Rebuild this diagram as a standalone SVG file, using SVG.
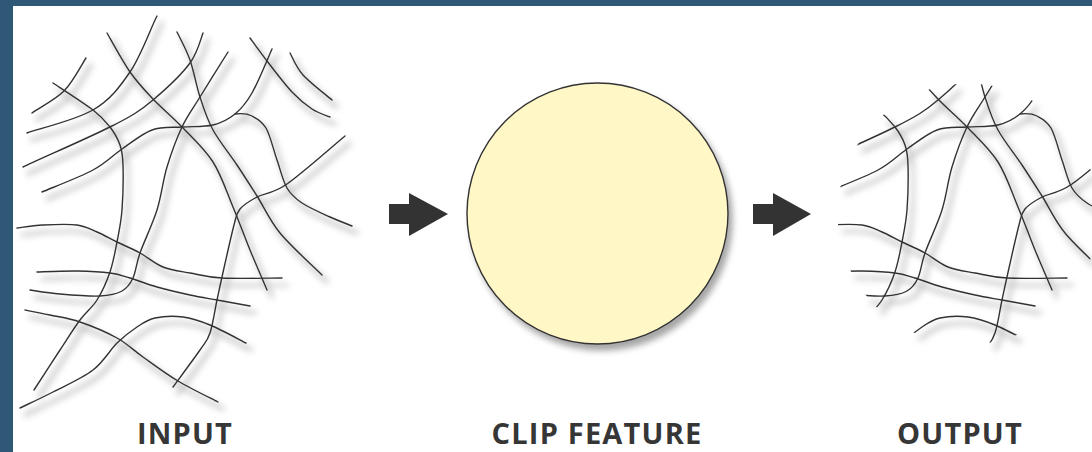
<svg xmlns="http://www.w3.org/2000/svg" xmlns:xlink="http://www.w3.org/1999/xlink" width="1092" height="452" viewBox="0 0 1092 452">
<style>
.ln{fill:none;stroke:#333;stroke-width:1.4;stroke-linecap:round;stroke-linejoin:round}
.lbl{font-family:"Open Sans","Liberation Sans",sans-serif;font-weight:700;font-size:29px;letter-spacing:1.2px;fill:#363636;text-anchor:middle}
.arr{fill:#333}
</style>
<defs>
<filter id="sh" x="-20%" y="-20%" width="140%" height="140%">
<feMorphology in="SourceAlpha" operator="dilate" radius="1.2" result="d"/>
<feGaussianBlur in="d" stdDeviation="3" result="b"/>
<feOffset in="b" dx="5" dy="7" result="o"/>
<feFlood flood-color="#000" flood-opacity="0.22"/>
<feComposite in2="o" operator="in" result="s"/>
<feMerge><feMergeNode in="s"/><feMergeNode in="SourceGraphic"/></feMerge>
</filter>
<filter id="csh" x="-20%" y="-20%" width="140%" height="140%">
<feGaussianBlur in="SourceAlpha" stdDeviation="3" result="b"/>
<feOffset in="b" dx="4" dy="6" result="o"/>
<feFlood flood-color="#000" flood-opacity="0.35"/>
<feComposite in2="o" operator="in" result="s"/>
<feMerge><feMergeNode in="s"/><feMergeNode in="SourceGraphic"/></feMerge>
</filter>
<clipPath id="clipc"><circle cx="183" cy="214" r="130.5"/></clipPath>
<g id="net" class="ln">
<path d="M32,113 C37,109 55,100 64,91 C73,82 82,64 86,58"/>
<path d="M27,133 C38,129 76,120 93,110 C110,100 119,88 130,72 C141,56 152,25 157,16"/>
<path d="M23,167 C37.5,160 88,138 110,127 C132,116 140,111 153,100 C166,89 182,74 190,63 C198,52 201,38 203,33"/>
<path d="M42,192 C50.5,188.3 79.7,177.2 93,170 C106.3,162.8 112.2,155.7 122,149 C131.8,142.3 142,133.7 152,130 C162,126.3 171.8,127.8 182,127 C192.2,126.2 204.2,127.2 213,125 C221.8,122.8 228.5,119.3 235,114 C241.5,108.7 245.8,103.8 252,93 C258.2,82.2 268.7,56.3 272,49"/>
<path d="M235,114 C239.5,113.5 247.2,113.5 252,116 C256.8,118.5 261.8,120.7 266,128 C270.2,135.3 273.5,150 277,160 C280.5,170 282.8,180.8 287,188 C291.2,195.2 294.8,198.2 302,203 C309.2,207.8 321.7,213.2 330,217 C338.3,220.8 348.3,224.5 352,226"/>
<path d="M107,33 C110.8,39.5 122.3,61 130,72 C137.7,83 144.3,89.8 153,99 C161.7,108.2 172,116.5 182,127 C192,137.5 204.5,148.7 213,162 C221.5,175.3 226.8,192.3 233,207 C239.2,221.7 244.3,236.2 250,250 C255.7,263.8 264.2,283.3 267,290"/>
<path d="M177,32 C179.2,36.7 186.2,49.2 190,60 C193.8,70.8 196.2,85.3 200,97 C203.8,108.7 206.8,118.7 213,130 C219.2,141.3 229.7,154 237,165 C244.3,176 249.8,184.7 257,196 C264.2,207.3 269.2,219.8 280,233 C290.8,246.2 315,268 322,275"/>
<path d="M250,38 C252.8,41.8 260,52 267,61 C274,70 284.5,84 292,92 C299.5,100 305.7,104.8 312,109 C318.3,113.2 327,115.7 330,117"/>
<path d="M290,53 C292.2,56.7 296,67.2 303,75 C310,82.8 327.2,95.8 332,100"/>
<path d="M345,136 C335.3,144 301.7,173.8 287,184 C272.3,194.2 264.8,192.8 257,197 C249.2,201.2 243.8,204.3 240,209 C236.2,213.7 237,213.7 234,225 C231,236.3 224.8,264.5 222,277 C219.2,289.5 219,290.7 217,300 C215,309.3 212.8,324.7 210,333 C207.2,341.3 206.2,341 200,350 C193.8,359 177.5,380.8 173,387"/>
<path d="M228,52 C223.3,59.5 207.7,84.5 200,97 C192.3,109.5 187.5,115.3 182,127 C176.5,138.7 171.2,153.2 167,167 C162.8,180.8 161.5,195.7 157,210 C152.5,224.3 144,241.7 140,253 C136,264.3 136,271.7 133,278 C130,284.3 127.5,288 122,291 C116.5,294 110.3,295.5 100,296 C89.7,296.5 71.7,295 60,294 C48.3,293 35,290.7 30,290"/>
<path d="M53,83 C59.7,87.5 83.5,102.7 93,110 C102.5,117.3 105.5,121.2 110,127 C114.5,132.8 117.8,138.7 120,145 C122.2,151.3 122.7,154.2 123,165 C123.3,175.8 123,197.2 122,210 C121,222.8 119,231.7 117,242 C115,252.3 113.3,262.3 110,272 C106.7,281.7 102,292 97,300 C92,308 86.2,311.7 80,320 C73.8,328.3 67.7,338.3 60,350 C52.3,361.7 38.3,383.3 34,390"/>
<path d="M17,228 C21.3,227.5 33,225.5 43,225 C53,224.5 68,223.8 77,225 C86,226.2 90.3,229.2 97,232 C103.7,234.8 109.8,238.5 117,242 C124.2,245.5 132.3,248.8 140,253 C147.7,257.2 154.7,263.7 163,267 C171.3,270.3 180.2,271.2 190,273 C199.8,274.8 206.7,277.2 222,278 C237.3,278.8 272,278 282,278"/>
<path d="M37,272 C43.7,271.8 64.8,270.8 77,271 C89.2,271.2 101.2,271.8 110,273 C118.8,274.2 122.2,275.7 130,278 C137.8,280.3 147,284.2 157,287 C167,289.8 180,292.8 190,295 C200,297.2 207,298.2 217,300 C227,301.8 244.5,305 250,306"/>
<path d="M25,310 C29.2,310.8 40.8,313 50,315 C59.2,317 68.8,318.2 80,322 C91.2,325.8 106.5,332.2 117,338 C127.5,343.8 132.8,349.8 143,357 C153.2,364.2 165.5,373.5 178,381 C190.5,388.5 211.3,398.5 218,402"/>
<path d="M20,408 C25.5,405.3 40.8,398.3 53,392 C65.2,385.7 82.3,378.2 93,370 C103.7,361.8 109.7,350.2 117,343 C124.3,335.8 130.7,331.2 137,327 C143.3,322.8 147.3,319.7 155,318 C162.7,316.3 173.8,315.8 183,317 C192.2,318.2 199.5,320.7 210,325 C220.5,329.3 240,340 246,343"/>
</g>
</defs>
<rect x="0" y="0" width="1092" height="452" fill="#fff"/>
<rect x="0" y="0" width="1092" height="6" fill="#2E5876"/>
<rect x="0" y="0" width="13" height="452" fill="#2E5876"/>
<g id="input">
<g filter="url(#sh)"><use xlink:href="#net" href="#net"/></g>
<text class="lbl" x="185" y="444">INPUT</text>
</g>
<g id="clip-feature">
<circle cx="597.5" cy="213.5" r="130.5" fill="#FFF7C6" stroke="#333" stroke-width="1.4" filter="url(#csh)"/>
<text class="lbl" x="597" y="444">CLIP FEATURE</text>
</g>
<g id="output">
<g transform="translate(785,0)" filter="url(#sh)"><g clip-path="url(#clipc)"><use xlink:href="#net" href="#net"/></g></g>
<text class="lbl" x="960" y="444">OUTPUT</text>
</g>
<g id="connectors">
<path class="arr" d="M389,204 H409 V193 L448,214 L409,236 V224 H389 Z"/>
<path class="arr" d="M753,204 H773 V193 L811,214 L773,236 V224 H753 Z"/>
</g>
</svg>
